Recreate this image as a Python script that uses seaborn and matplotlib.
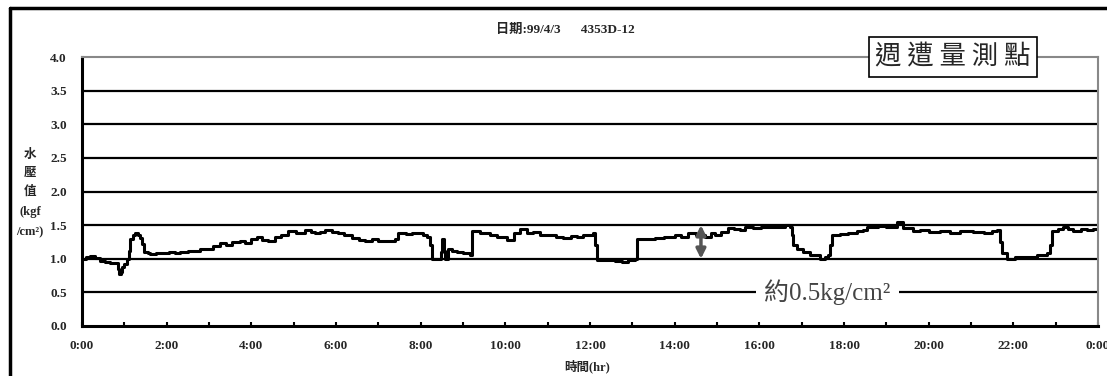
import numpy as np
import pandas as pd
import seaborn as sns
import matplotlib.pyplot as plt
from matplotlib.lines import Line2D

# hours since 0:00 and water pressure (kgf/cm2)
hours = [0.00, 0.10, 0.19, 0.30, 0.43, 0.55, 0.66, 0.80, 0.85, 0.87, 0.92, 0.94,
         1.00, 1.06, 1.10, 1.13, 1.20, 1.25, 1.32, 1.37, 1.42, 1.46, 1.55, 1.61,
         1.75, 1.90, 2.05, 2.20, 2.32, 2.50, 2.65, 2.79, 2.95, 3.10, 3.26, 3.40,
         3.55, 3.73, 3.85, 4.00, 4.13, 4.25, 4.39, 4.55, 4.70, 4.87, 5.05, 5.27,
         5.40, 5.50, 5.62, 5.74, 5.90, 6.05, 6.20, 6.38, 6.55, 6.69, 6.85, 7.00,
         7.23, 7.39, 7.47, 7.65, 7.80, 7.94, 8.05, 8.15, 8.22, 8.27, 8.39, 8.47,
         8.50, 8.55, 8.58, 8.65, 8.75, 8.86, 9.00, 9.17, 9.21, 9.40, 9.64, 9.80,
         10.04, 10.20, 10.35, 10.50, 10.65, 10.82, 11.00, 11.20, 11.36, 11.55,
         11.70, 11.84, 12.07, 12.12, 12.17, 12.47, 12.60, 12.76, 12.90, 13.06,
         13.11, 13.30, 13.54, 13.75, 14.00, 14.15, 14.32, 14.50, 14.72, 14.85,
         14.95, 15.10, 15.26, 15.40, 15.54, 15.66, 15.85, 16.05, 16.25, 16.44,
         16.60, 16.73, 16.76, 16.80, 16.90, 17.03, 17.20, 17.43, 17.55, 17.62,
         17.68, 17.72, 17.90, 18.10, 18.31, 18.45, 18.54, 18.80, 19.00, 19.16,
         19.25, 19.40, 19.63, 19.80, 20.00, 20.27, 20.50, 20.75, 21.05, 21.30,
         21.50, 21.62, 21.68, 21.73, 21.85, 22.05, 22.32, 22.55, 22.80, 22.86,
         22.92, 23.05, 23.17, 23.30, 23.41, 23.60, 23.74, 23.88, 24.00]
pressure = [1.00, 1.02, 1.04, 1.01, 0.97, 0.95, 0.93, 0.93, 0.85, 0.77, 0.80, 0.88,
            0.92, 1.00, 1.12, 1.29, 1.36, 1.39, 1.36, 1.31, 1.22, 1.10, 1.08, 1.07,
            1.09, 1.08, 1.10, 1.09, 1.10, 1.12, 1.11, 1.14, 1.15, 1.19, 1.23, 1.21,
            1.25, 1.26, 1.24, 1.30, 1.33, 1.28, 1.26, 1.33, 1.36, 1.41, 1.39, 1.43,
            1.40, 1.38, 1.40, 1.43, 1.40, 1.38, 1.35, 1.31, 1.28, 1.27, 1.29, 1.27,
            1.27, 1.29, 1.38, 1.37, 1.39, 1.39, 1.36, 1.33, 1.20, 1.00, 1.00, 1.10,
            1.29, 1.12, 1.00, 1.14, 1.12, 1.10, 1.08, 1.06, 1.41, 1.38, 1.36, 1.33,
            1.28, 1.38, 1.44, 1.38, 1.40, 1.36, 1.35, 1.33, 1.31, 1.34,
            1.33, 1.36, 1.38, 1.20, 0.98, 0.98, 0.97, 0.95, 0.98, 1.00,
            1.29, 1.30, 1.31, 1.33, 1.36, 1.33, 1.38, 1.36, 1.33, 1.38,
            1.36, 1.40, 1.46, 1.44, 1.43, 1.47, 1.46, 1.48, 1.47, 1.48,
            1.50, 1.48, 1.35, 1.21, 1.14, 1.10, 1.06, 1.00, 1.02, 1.06,
            1.20, 1.36, 1.37, 1.39, 1.41, 1.43, 1.47, 1.49, 1.47, 1.48,
            1.54, 1.46, 1.41, 1.43, 1.40, 1.41, 1.39, 1.42, 1.40, 1.38,
            1.41, 1.43, 1.25, 1.08, 1.00, 1.02, 1.03, 1.05, 1.08, 1.20,
            1.41, 1.44, 1.47, 1.44, 1.42, 1.45, 1.43, 1.45, 1.46]

x_ticklabels = ['0:00', '2:00', '4:00', '6:00', '8:00', '10:00', '12:00',
                '14:00', '16:00', '18:00', '20:00', '22:00', '0:00']
y_ticks = [0.0, 0.5, 1.0, 1.5, 2.0, 2.5, 3.0, 3.5, 4.0]
title_text = '日期:99/4/3      4353D-12'
box_text = '週 遭 量 測 點'
note_text = '約0.5kg/cm²'

df = pd.DataFrame({'hour': hours, 'pressure': pressure})

sns.set_style('white')
plt.rcParams['font.family'] = ['Liberation Serif', 'Noto Sans CJK TC', 'DejaVu Sans']

fig = plt.figure(figsize=(11.07, 3.76), dpi=100)
ax = fig.add_axes([0.0741, 0.133, 0.9178, 0.715])

sns.lineplot(data=df, x='hour', y='pressure', ax=ax, color='black', linewidth=2.2,
             drawstyle='steps-post')

ax.set_xlim(0, 24)
ax.set_ylim(0, 4)
ax.set_xticks(np.arange(0, 25, 2))
ax.set_xticks(np.arange(0, 25, 1), minor=True)
ax.set_xticklabels(x_ticklabels, fontsize=9.5, fontweight='bold')
ax.set_yticks(y_ticks)
ax.set_yticklabels([f'{v:.1f}' for v in y_ticks], fontsize=9.5, fontweight='bold')
ax.tick_params(axis='x', which='both', direction='in', length=3, width=1.5,
               color='black', pad=10, bottom=True)
ax.tick_params(axis='y', length=0, pad=11)
ax.set_xlabel('')
ax.set_ylabel('')

for v in y_ticks[1:-1]:
    ax.axhline(v, color='black', linewidth=1.6, zorder=1)

for side in ['left', 'bottom']:
    ax.spines[side].set_color('black')
    ax.spines[side].set_linewidth(2.2)
for side in ['top', 'right']:
    ax.spines[side].set_color('#888888')
    ax.spines[side].set_linewidth(1.5)

# pressure swing arrow and note
ax.annotate('', xy=(14.62, 1.0), xytext=(14.62, 1.5),
            arrowprops=dict(arrowstyle='<|-|>', color='#555555', lw=2.5,
                            mutation_scale=14, shrinkA=0, shrinkB=0), zorder=4)
ax.text(17.6, 0.5, note_text, ha='center', va='center', fontsize=18,
        color='#444444', zorder=5,
        bbox=dict(facecolor='white', edgecolor='none', pad=6))

# titles and labels
fig.text(0.511, 0.92, title_text, ha='center', va='center', fontsize=9.5,
         fontweight='bold')
fig.text(0.53, 0.025, '時間(hr)', ha='center', va='center', fontsize=9,
         fontweight='bold')
for txt, yy in zip(['水', '壓', '值', '(kgf', '/cm²)'], [155, 173, 192, 212, 232]):
    fig.text(0.027, 1 - yy / 376, txt, ha='center', va='center', fontsize=9,
             fontweight='bold')
fig.text(0.861, 1 - 57 / 376, box_text, ha='center', va='center', fontsize=19,
         family=['Noto Sans CJK TC'],
         bbox=dict(facecolor='white', edgecolor='black', linewidth=1.2,
                   boxstyle='square,pad=0.25'))

# outer frame
fig.add_artist(Line2D([10 / 1107, 10 / 1107], [0, 1 - 8 / 376], color='black',
                      linewidth=2.5, transform=fig.transFigure))
fig.add_artist(Line2D([10 / 1107, 1], [1 - 8 / 376, 1 - 8 / 376], color='black',
                      linewidth=2.5, transform=fig.transFigure))

fig.savefig('out.png', dpi=100)
